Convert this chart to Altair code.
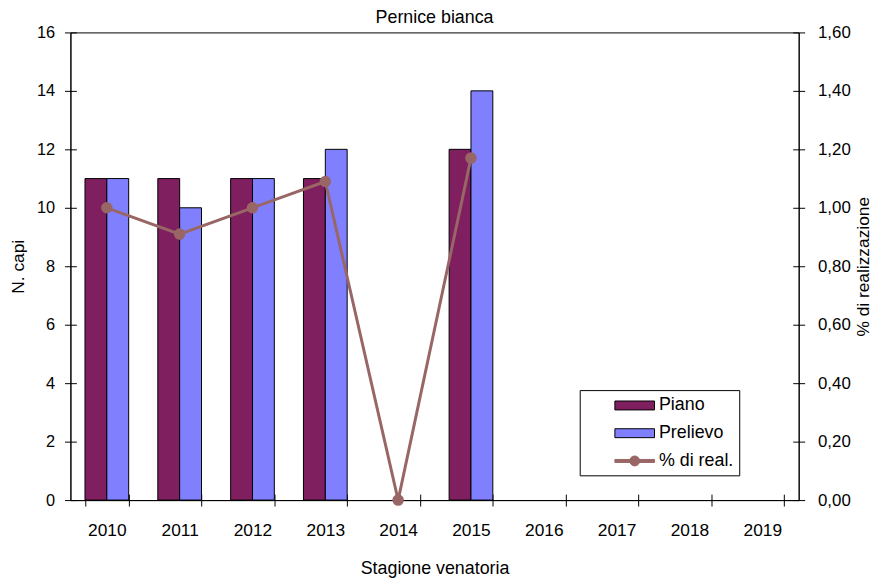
import altair as alt
import pandas as pd

# ---- data ----
years = ["2010", "2011", "2012", "2013", "2014", "2015", "2016", "2017", "2018", "2019"]
bar_years = ["2010", "2011", "2012", "2013", "2014", "2015"]
piano = [11, 11, 11, 11, None, 12]
prelievo = [11, 10, 11, 12, None, 14]
perc_years = ["2010", "2011", "2012", "2013", "2014", "2015"]
perc_real = [1.00, 0.91, 1.00, 1.09, 0.00, 1.17]

series = ["Piano", "Prelievo", "% di real."]
fill_colors = ["#7F1F5F", "#8080FF", "#996666"]
line_color = "#996666"

left_ticks = [0, 2, 4, 6, 8, 10, 12, 14, 16]
right_ticks = [0.0, 0.2, 0.4, 0.6, 0.8, 1.0, 1.2, 1.4, 1.6]

FONT = "Liberation Sans"
W, H = 735, 472

bars_df = pd.DataFrame(
    {
        "anno": bar_years + bar_years,
        "serie": ["Piano"] * len(bar_years) + ["Prelievo"] * len(bar_years),
        "valore": piano + prelievo,
    }
)
perc_df = pd.DataFrame({"anno": perc_years, "perc": perc_real})

x_scale = alt.Scale(domain=years, paddingInner=0.4, paddingOuter=0.2)
x_main = alt.X(
    "anno:N",
    scale=x_scale,
    axis=alt.Axis(
        title="Stagione venatoria",
        labelAngle=0,
        tickBand="extent",
        tickSize=6,
        labelPadding=16,
        titlePadding=21,
        labelFontSize=17.5,
        titleFontSize=18,
    ),
)
x_plain = alt.X("anno:N", scale=x_scale, axis=None)
# inner halves of the crossing ticks on the category axis
x_inner = alt.X(
    "anno:N",
    scale=x_scale,
    axis=alt.Axis(
        orient="top", offset=-H, tickBand="extent", tickSize=6,
        labels=False, domain=False, title=None,
    ),
)

# legend symbols (custom paths)
rect_path = "M-1,-0.45H3V0.45H-1Z"
line_path = ("M-1,-0.15H3V0.15H-1Z"
             "M1.5,0A0.5,0.5 0 1,1 0.5,0A0.5,0.5 0 1,1 1.5,0")

bars = alt.Chart(bars_df).mark_bar(stroke="black", strokeWidth=1).encode(
    x=x_main,
    xOffset=alt.XOffset("serie:N", scale=alt.Scale(domain=["Piano", "Prelievo"])),
    y=alt.Y(
        "valore:Q",
        scale=alt.Scale(domain=[0, 16]),
        axis=alt.Axis(
            values=left_ticks,
            title="N. capi",
            tickSize=6,
            labelPadding=10,
            titlePadding=9,
            labelFontSize=16.5,
            titleFontSize=17.5,
        ),
    ),
    fill=alt.Fill(
        "serie:N",
        scale=alt.Scale(domain=series, range=fill_colors),
        legend=alt.Legend(
            title=None,
            orient="none",
            legendX=514,
            legendY=361,
            padding=5,
            strokeColor="black",
            fillColor="white",
            symbolSize=400,
            symbolOffset=30,
            symbolStrokeWidth=1,
            symbolType={"expr": f"datum.value === '% di real.' ? '{line_path}' : '{rect_path}'"},
            symbolStrokeColor={"expr": f"datum.value === '% di real.' ? '{line_color}' : 'black'"},
            labelOffset=24,
            labelFontSize=18,
            labelFont=FONT,
            labelColor="black",
            rowPadding=8,
        ),
    ),
)

# inner halves of the crossing ticks on the left axis
left_inner = alt.Chart(bars_df).mark_point(opacity=0).encode(
    x=x_inner,
    y=alt.Y(
        "valore:Q",
        scale=alt.Scale(domain=[0, 16]),
        axis=alt.Axis(
            orient="right", offset=-W, values=left_ticks, tickSize=6,
            labels=False, domain=False, title=None,
        ),
    ),
)

y_right = alt.Y(
    "perc:Q",
    scale=alt.Scale(domain=[0, 1.6]),
    axis=alt.Axis(
        orient="right",
        values=right_ticks,
        labelExpr="replace(format(datum.value, '.2f'), '.', ',')",
        title="% di realizzazione",
        titleAngle=270,
        titleBaseline="top",
        tickSize=6,
        labelPadding=13,
        titlePadding=4,
        labelFontSize=17,
        titleFontSize=17.5,
    ),
)

line = alt.Chart(perc_df).mark_line(color=line_color, strokeWidth=3).encode(
    x=x_plain, y=y_right
)
points = alt.Chart(perc_df).mark_circle(color=line_color, size=135, opacity=1).encode(
    x=x_plain, y=y_right
)

# inner halves of the crossing ticks on the right axis
right_inner = alt.Chart(perc_df).mark_point(opacity=0).encode(
    x=x_plain,
    y=alt.Y(
        "perc:Q",
        scale=alt.Scale(domain=[0, 1.6]),
        axis=alt.Axis(
            orient="left", offset=-W, values=right_ticks, tickSize=6,
            labels=False, domain=False, title=None,
        ),
    ),
)

chart = (
    alt.layer(bars, alt.layer(line, points), left_inner, right_inner)
    .resolve_scale(y="independent")
    .resolve_axis(x="independent")
    .properties(
        width=W,
        height=H,
        title=alt.TitleParams(
            "Pernice bianca",
            fontSize=18,
            font=FONT,
            fontWeight="normal",
            color="black",
            frame="group",
            anchor="middle",
            offset=-3,
        ),
        autosize=alt.AutoSizeParams(type="none"),
        padding={"left": 63, "top": 22, "right": 75, "bottom": 77},
    )
    .configure_view(stroke="black", strokeWidth=1)
    .configure_axis(
        grid=False,
        domainColor="black",
        tickColor="black",
        labelColor="black",
        titleColor="black",
        labelFont=FONT,
        titleFont=FONT,
        titleFontWeight="normal",
    )
)

chart.save("out.html", embed_options={"renderer": "svg", "actions": False})
